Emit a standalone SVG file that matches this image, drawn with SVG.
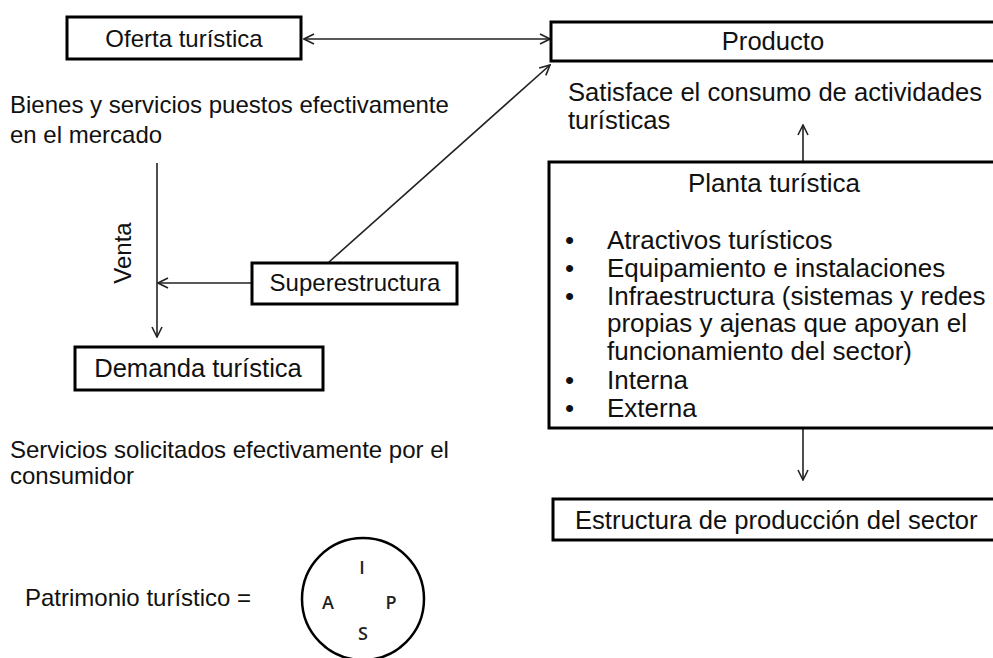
<svg xmlns="http://www.w3.org/2000/svg" width="993" height="658" viewBox="0 0 993 658">
<style>
text{font-family:"Liberation Sans",Arial,sans-serif;font-size:24px;fill:#111}
.big{font-size:25.6px}
.pl{font-size:26px}
.box{fill:#fff;stroke:#000;stroke-width:3}
.c{text-anchor:middle}
.ln{fill:none;stroke:#222;stroke-width:1.6}
.ltr{font-family:"Open Sans","Noto Sans",sans-serif;font-size:18px;font-weight:600;fill:#222}
</style>
<defs>
<marker id="ah" viewBox="0 0 12 12" refX="11" refY="6" markerWidth="12" markerHeight="12" markerUnits="userSpaceOnUse" orient="auto-start-reverse">
<path d="M1,1 L11,6 L1,11" fill="none" stroke="#222" stroke-width="1.6"/>
</marker>
</defs>
<rect width="993" height="658" fill="#fff"/>
<g id="connectors">
<line class="ln" x1="304" y1="39" x2="550" y2="39" marker-start="url(#ah)" marker-end="url(#ah)"/>
<line class="ln" x1="329" y1="262" x2="550" y2="65" marker-end="url(#ah)"/>
<line class="ln" x1="157" y1="163" x2="157" y2="337" marker-end="url(#ah)"/>
<line class="ln" x1="252" y1="283" x2="158" y2="283" marker-end="url(#ah)"/>
<line class="ln" x1="803" y1="161" x2="803" y2="125" marker-end="url(#ah)"/>
<line class="ln" x1="803" y1="429" x2="803" y2="480" marker-end="url(#ah)"/>
</g>
<g id="oferta">
<rect class="box" x="67" y="17" width="234" height="42"/>
<text class="c" x="184" y="47">Oferta turística</text>
</g>
<g id="producto">
<rect class="box" x="551" y="22" width="460" height="39"/>
<text class="c big" x="773" y="50">Producto</text>
</g>
<g id="bienes">
<text x="10" y="113">Bienes y servicios puestos efectivamente</text>
<text x="10" y="143">en el mercado</text>
</g>
<g id="satisface">
<text class="big" x="568" y="101">Satisface el consumo de actividades</text>
<text class="big" x="568" y="129">turísticas</text>
</g>
<g id="venta">
<text class="c" transform="translate(131,253) rotate(-90)">Venta</text>
</g>
<g id="superestructura">
<rect class="box" x="252" y="263" width="205" height="41"/>
<text class="c" x="355" y="291">Superestructura</text>
</g>
<g id="demanda">
<rect class="box" x="75" y="347" width="248" height="43"/>
<text class="c big" x="198" y="377">Demanda turística</text>
</g>
<g id="servicios">
<text x="10" y="458">Servicios solicitados efectivamente por el</text>
<text x="10" y="484">consumidor</text>
</g>
<g id="planta">
<rect class="box" x="549" y="162" width="460" height="266"/>
<text class="c pl" x="774" y="192">Planta turística</text>
<text class="pl" x="565" y="249">•</text><text class="pl" x="607" y="249">Atractivos turísticos</text>
<text class="pl" x="565" y="277">•</text><text class="pl" x="607" y="277">Equipamiento e instalaciones</text>
<text class="pl" x="565" y="305">•</text><text class="pl" x="607" y="305">Infraestructura (sistemas y redes</text>
<text class="pl" x="607" y="332">propias y ajenas que apoyan el</text>
<text class="pl" x="607" y="360">funcionamiento del sector)</text>
<text class="pl" x="565" y="389">•</text><text class="pl" x="607" y="389">Interna</text>
<text class="pl" x="565" y="417">•</text><text class="pl" x="607" y="417">Externa</text>
</g>
<g id="estructura">
<rect class="box" x="553" y="499" width="460" height="41"/>
<text class="big" x="575" y="529">Estructura de producción del sector</text>
</g>
<g id="patrimonio">
<text x="25" y="606">Patrimonio turístico =</text>
<circle cx="363" cy="599" r="61" fill="none" stroke="#000" stroke-width="2.5"/>
<text class="ltr c" x="362" y="574">I</text>
<text class="ltr c" x="328" y="609">A</text>
<text class="ltr c" x="391" y="609">P</text>
<text class="ltr c" x="363" y="640">S</text>
</g>
</svg>
